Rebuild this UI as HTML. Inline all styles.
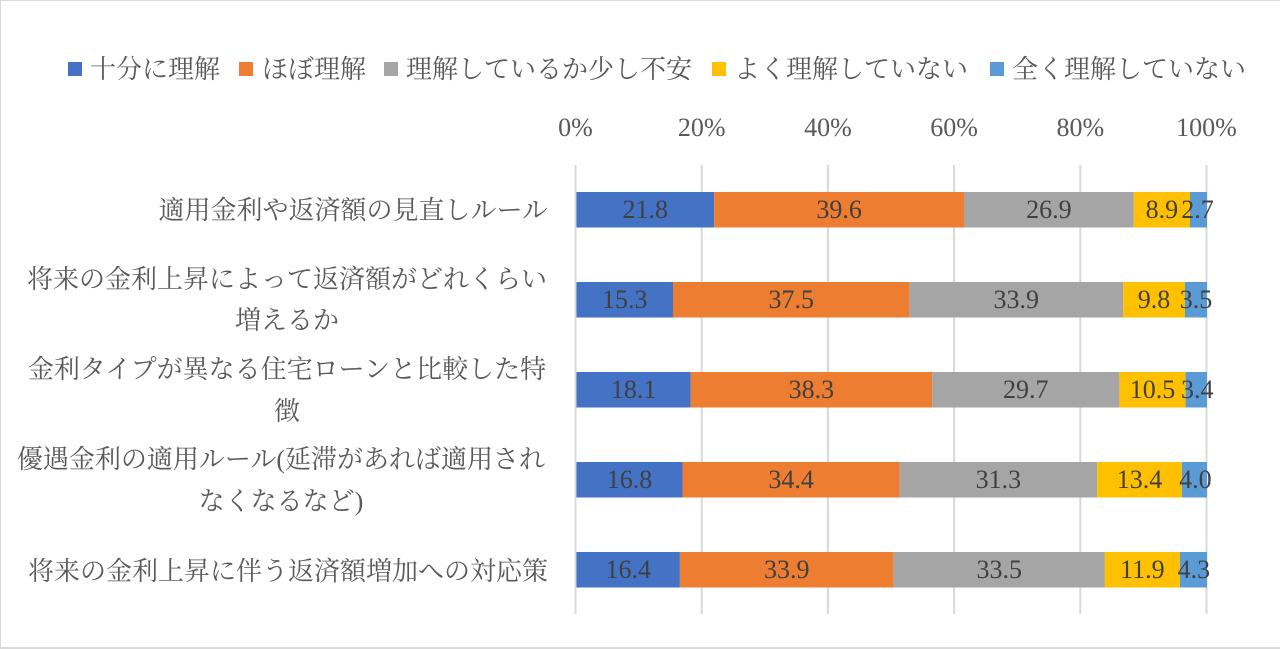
<!DOCTYPE html>
<html><head><meta charset="utf-8"><style>
html,body{margin:0;padding:0;background:#fff;}
svg{display:block;}
text{font-family:"Liberation Serif","Noto Serif CJK SC",serif;}
.cat{font-size:26px;fill:#595959;}
.lg{font-size:26px;fill:#595959;}
.ax{font-size:26px;fill:#595959;text-anchor:middle;}
.dl{font-size:26px;fill:#404040;text-anchor:middle;}
</style></head><body>
<svg width="1280" height="649" viewBox="0 0 1280 649" xmlns="http://www.w3.org/2000/svg">
<rect x="0" y="0" width="1280" height="649" fill="#fff"/>
<line x1="0" y1="0.5" x2="1280" y2="0.5" stroke="#d9d9d9" stroke-width="1"/>
<line x1="0.5" y1="0" x2="0.5" y2="649" stroke="#d9d9d9" stroke-width="1"/>
<line x1="0" y1="648" x2="1280" y2="648" stroke="#d9d9d9" stroke-width="2"/>

<!-- legend -->
<rect x="68" y="62" width="14" height="14" fill="#4472C4"/>
<text class="lg" x="90" y="78">十分に理解</text>
<rect x="239" y="62" width="14" height="14" fill="#ED7D31"/>
<text class="lg" x="262" y="78">ほぼ理解</text>
<rect x="384" y="62" width="14" height="14" fill="#A5A5A5"/>
<text class="lg" x="406" y="78">理解しているか少し不安</text>
<rect x="712" y="62" width="14" height="14" fill="#FFC000"/>
<text class="lg" x="734" y="78">よく理解していない</text>
<rect x="990" y="62" width="14" height="14" fill="#5B9BD5"/>
<text class="lg" x="1012" y="78">全く理解していない</text>

<!-- axis labels -->
<text class="ax" x="575.5" y="136">0%</text>
<text class="ax" x="701.7" y="136">20%</text>
<text class="ax" x="827.9" y="136">40%</text>
<text class="ax" x="954.1" y="136">60%</text>
<text class="ax" x="1080.3" y="136">80%</text>
<text class="ax" x="1206.5" y="136">100%</text>

<!-- gridlines -->
<g stroke="#d9d9d9" stroke-width="2">
<line x1="575.5" y1="165" x2="575.5" y2="614"/>
<line x1="701.7" y1="165" x2="701.7" y2="614"/>
<line x1="827.9" y1="165" x2="827.9" y2="614"/>
<line x1="954.1" y1="165" x2="954.1" y2="614"/>
<line x1="1080.3" y1="165" x2="1080.3" y2="614"/>
<line x1="1206.5" y1="165" x2="1206.5" y2="614"/>
</g>

<!-- row 1 -->
<g>
<rect x="576.5" y="192" width="137.6" height="35.5" fill="#4472C4"/>
<rect x="714.1" y="192" width="249.9" height="35.5" fill="#ED7D31"/>
<rect x="964.0" y="192" width="169.8" height="35.5" fill="#A5A5A5"/>
<rect x="1133.8" y="192" width="56.2" height="35.5" fill="#FFC000"/>
<rect x="1190.0" y="192" width="17.0" height="35.5" fill="#5B9BD5"/>
<text class="dl" x="645.3" y="218">21.8</text>
<text class="dl" x="839.1" y="218">39.6</text>
<text class="dl" x="1048.9" y="218">26.9</text>
<text class="dl" x="1161.9" y="218">8.9</text>
<text class="dl" x="1197.5" y="218">2.7</text>
</g>
<!-- row 2 -->
<g>
<rect x="576.5" y="282" width="96.5" height="35.5" fill="#4472C4"/>
<rect x="673.0" y="282" width="236.4" height="35.5" fill="#ED7D31"/>
<rect x="909.4" y="282" width="213.8" height="35.5" fill="#A5A5A5"/>
<rect x="1123.2" y="282" width="61.8" height="35.5" fill="#FFC000"/>
<rect x="1185.0" y="282" width="22.0" height="35.5" fill="#5B9BD5"/>
<text class="dl" x="624.7" y="308">15.3</text>
<text class="dl" x="791.2" y="308">37.5</text>
<text class="dl" x="1016.3" y="308">33.9</text>
<text class="dl" x="1154.0" y="308">9.8</text>
<text class="dl" x="1196.0" y="308">3.5</text>
</g>
<!-- row 3 -->
<g>
<rect x="576.5" y="372" width="114.1" height="35.5" fill="#4472C4"/>
<rect x="690.6" y="372" width="241.5" height="35.5" fill="#ED7D31"/>
<rect x="932.1" y="372" width="187.3" height="35.5" fill="#A5A5A5"/>
<rect x="1119.4" y="372" width="66.2" height="35.5" fill="#FFC000"/>
<rect x="1185.6" y="372" width="21.4" height="35.5" fill="#5B9BD5"/>
<text class="dl" x="633.6" y="398">18.1</text>
<text class="dl" x="811.4" y="398">38.3</text>
<text class="dl" x="1025.7" y="398">29.7</text>
<text class="dl" x="1152.5" y="398">10.5</text>
<text class="dl" x="1197.3" y="398">3.4</text>
</g>
<!-- row 4 -->
<g>
<rect x="576.5" y="462" width="106.0" height="35.5" fill="#4472C4"/>
<rect x="682.5" y="462" width="217.1" height="35.5" fill="#ED7D31"/>
<rect x="899.6" y="462" width="197.6" height="35.5" fill="#A5A5A5"/>
<rect x="1097.2" y="462" width="84.6" height="35.5" fill="#FFC000"/>
<rect x="1181.8" y="462" width="25.2" height="35.5" fill="#5B9BD5"/>
<text class="dl" x="629.5" y="488">16.8</text>
<text class="dl" x="791.1" y="488">34.4</text>
<text class="dl" x="998.4" y="488">31.3</text>
<text class="dl" x="1139.5" y="488">13.4</text>
<text class="dl" x="1195.4" y="488">4.0</text>
</g>
<!-- row 5 -->
<g>
<rect x="576.5" y="552" width="103.4" height="35.5" fill="#4472C4"/>
<rect x="679.9" y="552" width="213.7" height="35.5" fill="#ED7D31"/>
<rect x="893.6" y="552" width="211.3" height="35.5" fill="#A5A5A5"/>
<rect x="1104.9" y="552" width="75.0" height="35.5" fill="#FFC000"/>
<rect x="1179.9" y="552" width="27.1" height="35.5" fill="#5B9BD5"/>
<text class="dl" x="628.2" y="578">16.4</text>
<text class="dl" x="786.8" y="578">33.9</text>
<text class="dl" x="999.3" y="578">33.5</text>
<text class="dl" x="1142.4" y="578">11.9</text>
<text class="dl" x="1193.9" y="578">4.3</text>
</g>

<!-- category labels -->
<text class="cat" x="548" y="219" text-anchor="end">適用金利や返済額の見直しルール</text>
<text class="cat" x="287" y="288" text-anchor="middle">将来の金利上昇によって返済額がどれくらい</text>
<text class="cat" x="287" y="329" text-anchor="middle">増えるか</text>
<text class="cat" x="287" y="378" text-anchor="middle">金利タイプが異なる住宅ローンと比較した特</text>
<text class="cat" x="287" y="420" text-anchor="middle">徴</text>
<text class="cat" x="281" y="468" text-anchor="middle">優遇金利の適用ルール(延滞があれば適用され</text>
<text class="cat" x="281" y="510" text-anchor="middle">なくなるなど)</text>
<text class="cat" x="548" y="580" text-anchor="end">将来の金利上昇に伴う返済額増加への対応策</text>
</svg>
</body></html>
